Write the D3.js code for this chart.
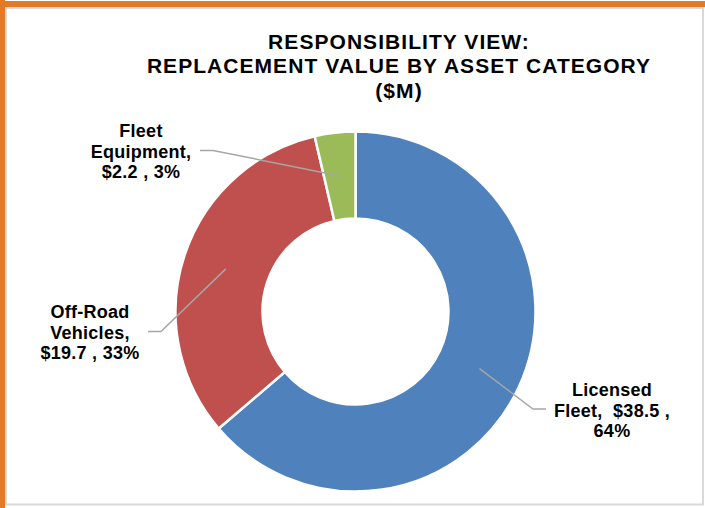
<!DOCTYPE html>
<html><head><meta charset="utf-8">
<script src="https://cdn.jsdelivr.net/npm/d3@7"></script>
<style>
html,body{margin:0;padding:0;background:#fff;}
svg{display:block;}
text{font-family:"Liberation Sans",Arial,sans-serif;font-weight:bold;fill:#000;}
</style></head><body>
<svg id="chart" width="705" height="508"></svg>
<script>
const categories = ["Licensed Fleet", "Off-Road Vehicles", "Fleet Equipment"];
const values = [38.5, 19.7, 2.2];
const percents = ["64%", "33%", "3%"];
const labelLines = [
  ["Licensed", "Fleet,  $38.5 ,", "64%"],
  ["Off-Road", "Vehicles,", "$19.7 , 33%"],
  ["Fleet", "Equipment,", "$2.2 , 3%"]
];
const colors = ["#4F81BD", "#C0504D", "#9BBB59"];
const titleLines = ["RESPONSIBILITY VIEW:", "REPLACEMENT VALUE BY ASSET CATEGORY", "($M)"];

// layout
const W = 705, H = 508;
const cx = 355.5, cy = 311.5, rOut = 180, rIn = 93;
const labelLayout = [
  {x: 612, y: 396, elbow: [533, 409], end: [546, 409]},
  {x: 90, y: 318, elbow: [161, 331.5], end: [148, 331.5]},
  {x: 141, y: 137, elbow: [213, 150.5], end: [200, 150.5]}
];

const svg = d3.select("#chart");
svg.append("rect").attr("x",0).attr("y",0).attr("width",W).attr("height",H).attr("fill","#fff");
svg.append("rect").attr("x",6).attr("y",8).attr("width",697).attr("height",496.5)
  .attr("fill","#fff").attr("stroke","#d9d9d9").attr("stroke-width",2);
svg.append("rect").attr("x",0).attr("y",1).attr("width",W).attr("height",6).attr("fill","#E37A27");
svg.append("rect").attr("x",0).attr("y",0).attr("width",5).attr("height",H).attr("fill","#E37A27");

// title
svg.append("text").attr("x",399).attr("y",48.5).attr("text-anchor","middle")
  .style("font-size","21px").style("letter-spacing","1.05px")
  .selectAll("tspan").data(titleLines).join("tspan")
  .attr("x",399).attr("dy",(d,i)=> i===0?0:24.5).text(d=>d);

const pie = d3.pie().sort(null).value(d=>d)(values);
const arc = d3.arc().innerRadius(rIn).outerRadius(rOut);
const g = svg.append("g").attr("transform",`translate(${cx},${cy})`);
g.selectAll("path").data(pie).join("path")
  .attr("d",arc).attr("fill",(d,i)=>colors[i])
  .attr("stroke","#fff").attr("stroke-width",2.5).attr("stroke-linejoin","miter");

// leader lines
pie.forEach((d,i)=>{
  const c = arc.centroid(d);
  const L = labelLayout[i];
  svg.append("polyline")
    .attr("points",[[cx+c[0],cy+c[1]],L.elbow,L.end].map(p=>p.join(",")).join(" "))
    .attr("fill","none").attr("stroke","#A6A6A6").attr("stroke-width",1.5);
});

// labels
labelLines.forEach((lines,i)=>{
  const L = labelLayout[i];
  svg.append("text").attr("text-anchor","middle").attr("y",L.y)
    .style("font-size","18px").style("letter-spacing","0.25px").style("white-space","pre")
    .selectAll("tspan").data(lines).join("tspan")
    .attr("x",L.x).attr("dy",(d,j)=> j===0?0:20.6).text(d=>d);
});
</script>
</body></html>
